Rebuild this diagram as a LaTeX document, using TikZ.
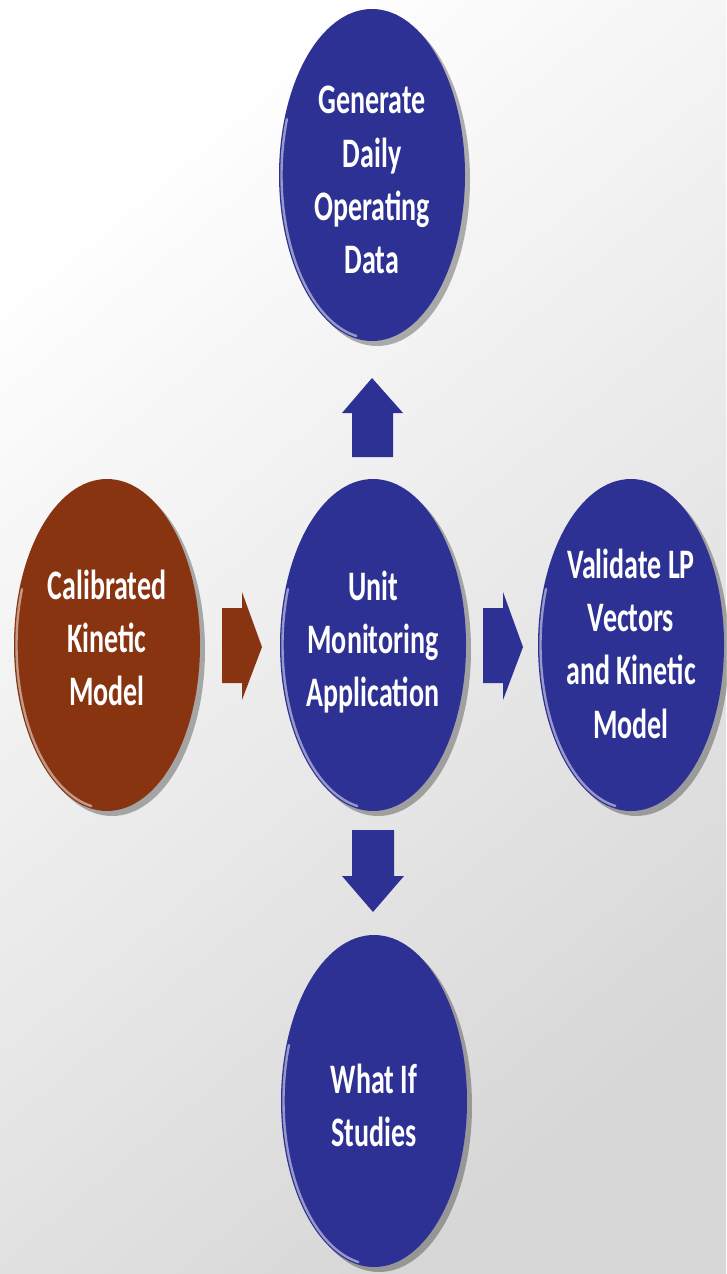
\documentclass[tikz,border=0pt]{standalone}
\usepackage{fontspec}
\usepackage{graphicx}
\setmainfont{Carlito}
\usetikzlibrary{shapes.geometric,shadows,calc}
\definecolor{bblue}{RGB}{46,49,148}
\definecolor{bbrown}{RGB}{136,52,16}
\definecolor{bgray}{RGB}{215,215,215}
\newcommand\bubtext[1]{\scalebox{1}[1.5]{\begin{tabular}{@{}c@{}}#1\end{tabular}}}
\tikzset{
  bubble/.style={ellipse, minimum width=186pt, minimum height=332pt, inner sep=0pt,
    fill=bblue,
    drop shadow={shadow xshift=5pt, shadow yshift=-5pt, opacity=0.3, fill=black}},
  brownbubble/.style={bubble, fill=bbrown},
  btext/.style={inner sep=0pt, text=white, font=\bfseries\fontsize{28}{35.5}\selectfont},
  rim/.style={draw=white, opacity=0.5, line width=2.4pt, line cap=round},
  blockarrow/.style={fill=bblue, draw=none},
  brownarrow/.style={fill=bbrown, draw=none}
}
\begin{document}
\begin{tikzpicture}[x=1pt,y=-1pt]
\useasboundingbox (0,0) rectangle (726,1274);
\shade[shading=axis, top color=white, bottom color=bgray, shading angle=40] (0,0) rectangle (726,1274);

\node[bubble] (gen) at (372,175) {};
\node[brownbubble] (cal) at (107,645) {};
\node[bubble] (uma) at (373,645) {};
\node[bubble] (val) at (631,645) {};
\node[bubble] (wif) at (374,1101) {};

% rims (lower-left highlight)
\foreach \n in {gen,cal,uma,val,wif}{
  \draw[rim] (\n.center) ++(100:90.5 and 163.5) arc[start angle=100, end angle=200, x radius=90.5, y radius=163.5];
}

% texts
\node[btext] (gent) at ($(gen.center)+(0,8)$) {\bubtext{Generate\\Daily\\Operating\\Data}};
\node[btext] (calt) at ($(cal.center)+(0,-3)$) {\bubtext{Calibrated\\Kinetic\\Model}};
\node[btext] (umat) at ($(uma.center)+(0,-2)$) {\bubtext{Unit\\Monitoring\\Application}};
\node[btext] (valt) at ($(val.center)+(0,2.5)$) {\bubtext{Validate LP\\Vectors\\and Kinetic\\Model}};
\node[btext] (wift) at ($(wif.center)+(0,8)$) {\bubtext{What If\\Studies}};

% block arrows
\fill[blockarrow] (352,457) -- (352,413) -- (342,413) -- (372,378) -- (403,413) -- (393,413) -- (393,457) -- cycle;
\fill[blockarrow] (352,830) -- (352,876) -- (342,876) -- (373,912) -- (404,876) -- (394,876) -- (394,830) -- cycle;
\fill[brownarrow] (222,608) -- (242,608) -- (242,592) -- (262,647) -- (242,700) -- (242,683) -- (222,683) -- cycle;
\fill[blockarrow] (483,608) -- (503,608) -- (503,592) -- (523,647) -- (503,700) -- (503,683) -- (483,683) -- cycle;
\end{tikzpicture}
\end{document}
